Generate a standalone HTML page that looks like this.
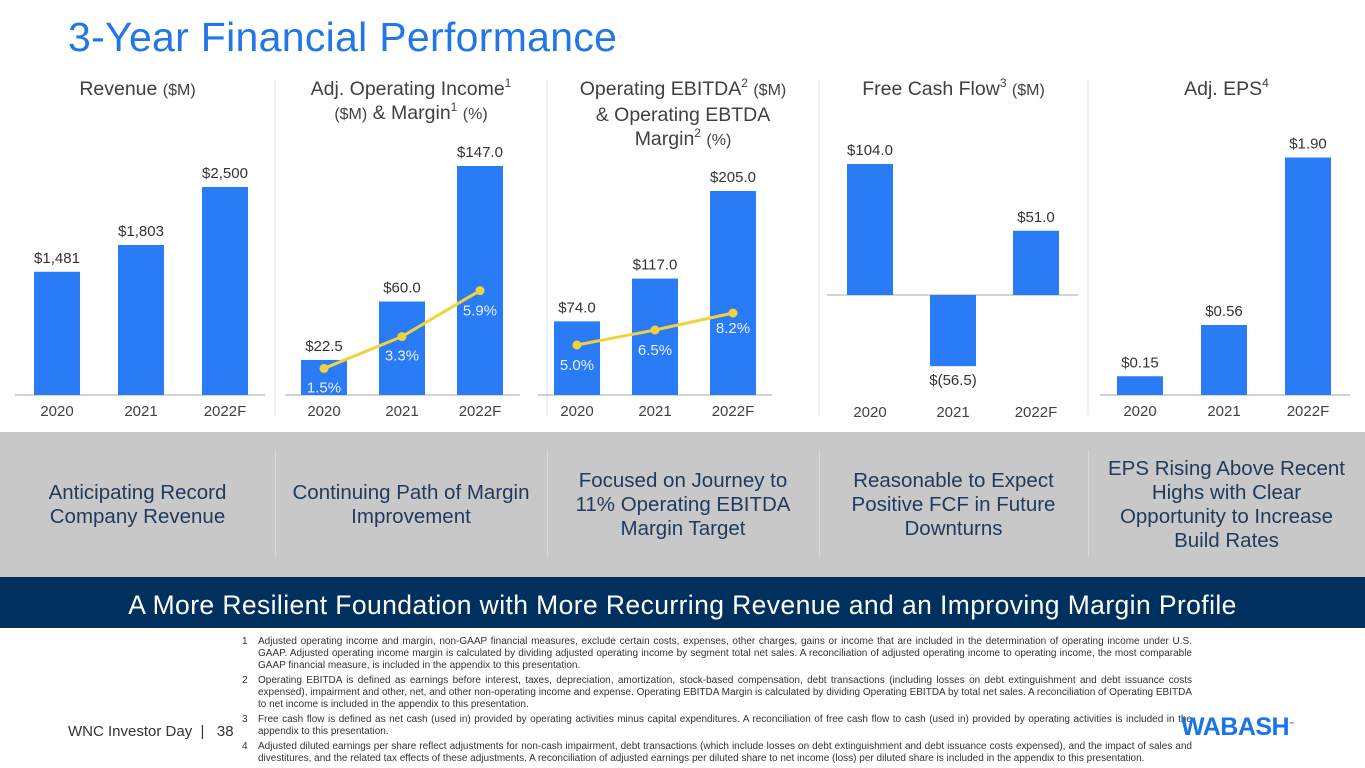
<!DOCTYPE html>
<html><head><meta charset="utf-8"><style>
body{margin:0;width:1365px;height:768px;overflow:hidden;background:#fff;font-family:"Liberation Sans",sans-serif;position:relative}
.abs{position:absolute}
.title{left:68px;top:14px;font-size:41px;color:#2376e6;letter-spacing:.3px}
.ph{font-size:19.5px;color:#404040;text-align:center;line-height:24px;top:77px}
.ph sup{font-size:12px;line-height:0;vertical-align:0;position:relative;top:-8px}
.ph .s{font-size:16px}
.band{left:0;top:432px;width:1365px;height:145px;background:#c8c8c8}
.bt{font-size:20.5px;color:#1e3a5f;text-align:center;line-height:24px;display:flex;align-items:center;justify-content:center;top:432px;height:145px}
.sep{width:1px;background:#d8d8d8}
.navy{left:0;top:577px;width:1365px;height:51px;background:#00305e;color:#fff;font-size:26.5px;text-align:center;line-height:56px;letter-spacing:.4px;white-space:nowrap}
.fn{left:258px;width:934px;font-size:10px;color:#333;line-height:12px;text-align:justify}
.fn span{position:absolute;left:-16px}
</style></head><body>
<div class="abs title">3-Year Financial Performance</div>
<div class="abs ph" style="left:0;width:275px">Revenue <span class="s">($M)</span></div>
<div class="abs ph" style="left:275px;width:272px">Adj. Operating Income<sup>1</sup><br><span class="s">($M)</span> &amp; Margin<sup>1</sup> <span class="s">(%)</span></div>
<div class="abs ph" style="left:547px;width:272px">Operating EBITDA<sup>2</sup> <span class="s">($M)</span><br>&amp; Operating EBTDA<br>Margin<sup>2</sup> <span class="s">(%)</span></div>
<div class="abs ph" style="left:819px;width:269px">Free Cash Flow<sup>3</sup> <span class="s">($M)</span></div>
<div class="abs ph" style="left:1088px;width:277px">Adj. EPS<sup>4</sup></div>

<svg class="abs" style="left:0;top:0" width="1365" height="430" id="charts"></svg>

<div class="abs band"></div>
<div class="abs sep" style="left:275px;top:450px;height:106px"></div>
<div class="abs sep" style="left:547px;top:450px;height:106px"></div>
<div class="abs sep" style="left:819px;top:450px;height:106px"></div>
<div class="abs sep" style="left:1088px;top:450px;height:106px"></div>
<div class="abs bt" style="left:0;width:275px">Anticipating Record<br>Company Revenue</div>
<div class="abs bt" style="left:275px;width:272px">Continuing Path of Margin<br>Improvement</div>
<div class="abs bt" style="left:547px;width:272px">Focused on Journey to<br>11% Operating EBITDA<br>Margin Target</div>
<div class="abs bt" style="left:819px;width:269px">Reasonable to Expect<br>Positive FCF in Future<br>Downturns</div>
<div class="abs bt" style="left:1088px;width:277px">EPS Rising Above Recent<br>Highs with Clear<br>Opportunity to Increase<br>Build Rates</div>
<div class="abs navy">A More Resilient Foundation with More Recurring Revenue and an Improving Margin Profile</div>

<div class="abs fn" style="top:636px"><span>1</span>Adjusted operating income and margin, non-GAAP financial measures, exclude certain costs, expenses, other charges, gains or income that are included in the determination of operating income under U.S. GAAP. Adjusted operating income margin is calculated by dividing adjusted operating income by segment total net sales. A reconciliation of adjusted operating income to operating income, the most comparable GAAP financial measure, is included in the appendix to this presentation.</div>
<div class="abs fn" style="top:675px"><span>2</span>Operating EBITDA is defined as earnings before interest, taxes, depreciation, amortization, stock-based compensation, debt transactions (including losses on debt extinguishment and debt issuance costs expensed), impairment and other, net, and other non-operating income and expense. Operating EBITDA Margin is calculated by dividing Operating EBITDA by total net sales. A reconciliation of Operating EBITDA to net income is included in the appendix to this presentation.</div>
<div class="abs fn" style="top:714px"><span>3</span>Free cash flow is defined as net cash (used in) provided by operating activities minus capital expenditures. A reconciliation of free cash flow to cash (used in) provided by operating activities is included in the appendix to this presentation.</div>
<div class="abs fn" style="top:741px"><span>4</span>Adjusted diluted earnings per share reflect adjustments for non-cash impairment, debt transactions (which include losses on debt extinguishment and debt issuance costs expensed), and the impact of sales and divestitures, and the related tax effects of these adjustments. A reconciliation of adjusted earnings per diluted share to net income (loss) per diluted share is included in the appendix to this presentation.</div>
<div class="abs" style="left:68px;top:723px;font-size:15px;color:#333">WNC Investor Day &nbsp;| &nbsp; 38</div>
<div class="abs" style="left:1181px;top:713px;font-size:25px;font-weight:bold;color:#1a73e8;letter-spacing:-.5px">WABASH<sup style="font-size:5px">™</sup></div>

<script>
const years = ["2020","2021","2022F"];
const revenue = [1481,1803,2500];
const revenueLabels = ["$1,481","$1,803","$2,500"];
const adjOpIncome = [22.5,60.0,147.0];
const adjOpIncomeLabels = ["$22.5","$60.0","$147.0"];
const adjOpMargin = [1.5,3.3,5.9];
const ebitda = [74.0,117.0,205.0];
const ebitdaLabels = ["$74.0","$117.0","$205.0"];
const ebitdaMargin = [5.0,6.5,8.2];
const fcf = [104.0,-56.5,51.0];
const fcfLabels = ["$104.0","$(56.5)","$51.0"];
const eps = [0.15,0.56,1.90];
const epsLabels = ["$0.15","$0.56","$1.90"];

const NS="http://www.w3.org/2000/svg";
const svg=document.getElementById('charts');
function mk(tag,attrs,parent){const e=document.createElementNS(NS,tag);for(const k in attrs)e.setAttribute(k,attrs[k]);(parent||svg).appendChild(e);return e;}
function txt(x,y,s,fill,size){const t=mk('text',{x:x,y:y,'text-anchor':'middle','font-size':size||14,fill:fill||'#333','font-family':'Liberation Sans, sans-serif'});t.textContent=s;return t;}

[275,547,819,1088].forEach(x=>{const l=mk('line',{x1:x,y1:80,x2:x,y2:415,stroke:'#e0e0e0'});

});

function panel(name,x0,step,zeroY,pxPer,vals,labels,axisX1,axisX2,xlabY){
  const base=mk('line',{x1:axisX1,y1:zeroY,x2:axisX2,y2:zeroY,stroke:'#aaa'});
  
  
  const centers=[];
  vals.forEach((v,i)=>{
    const cx=x0+i*step; centers.push(cx);
    const h=Math.abs(v)*pxPer; const y=v>=0?zeroY-h:zeroY;
    const r=mk('rect',{x:cx-23,y:y,width:46,height:h,fill:'#2a7bf6'});
    
    
    const t=txt(cx,v>=0?y-9:y+h+19,labels[i],'#333',15);
    
    
    const xl=txt(cx,xlabY,years[i],'#404040',15);
    
    
  });
  return centers;
}
function line(name,centers,vals,zeroY,pxPer,offs){
  const pts=vals.map((v,i)=>[centers[i],zeroY-v*pxPer]);
  const p=mk('polyline',{points:pts.map(p=>p.join(',')).join(' '),fill:'none',stroke:'#f0d33c','stroke-width':3});
  
  
  pts.forEach((q,i)=>{
    const c=mk('circle',{cx:q[0],cy:q[1],r:4.5,fill:'#f0d33c'});
    
    
    const t=txt(q[0],q[1]+offs[i],vals[i].toFixed(1)+'%','#e8f0ff',15);
    
    
  });
}
panel('revenue',57,84,395,208/2500,revenue,revenueLabels,15,265,416);
const c2=panel('adj-op-income',324,78,395,229/147,adjOpIncome,adjOpIncomeLabels,285,520,416);
line('adj-op-income',c2,adjOpMargin,395,17.7,[24,24,25]);
const c3=panel('ebitda',577,78,395,204/205,ebitda,ebitdaLabels,538,772,416);
line('ebitda',c3,ebitdaMargin,395,10,[25,25,20]);
panel('fcf',870,83,295,131/104,fcf,fcfLabels,827,1078,417);
panel('eps',1140,84,395,125,eps,epsLabels,1100,1350,416);
</script>
</body></html>
